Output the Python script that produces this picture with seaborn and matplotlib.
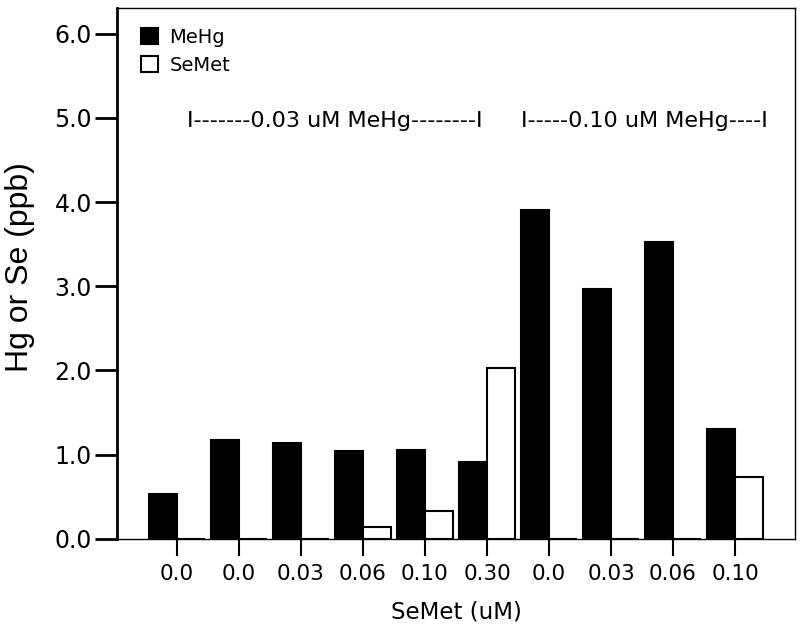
import pandas as pd
import seaborn as sns
import matplotlib.pyplot as plt

# Data
groups = ["g0", "g1", "g2", "g3", "g4", "g5", "g6", "g7", "g8", "g9"]
tick_labels = ["0.0", "0.0", "0.03", "0.06", "0.10", "0.30", "0.0", "0.03", "0.06", "0.10"]
mehg = [0.53, 1.18, 1.14, 1.04, 1.05, 0.91, 3.91, 2.97, 3.52, 1.31]
semet = [0.0, 0.0, 0.0, 0.14, 0.33, 2.03, 0.0, 0.0, 0.0, 0.74]
series = ["MeHg", "SeMet"]
annotations = ["I-------0.03 uM MeHg--------I", "I-----0.10 uM MeHg----I"]

df = pd.DataFrame({
    "group": groups * 2,
    "series": [series[0]] * len(groups) + [series[1]] * len(groups),
    "value": mehg + semet,
})

sns.set_style("white")
plt.rcParams["font.family"] = ["DejaVu Sans"]
plt.rcParams["text.color"] = "black"
plt.rcParams["axes.labelcolor"] = "black"
plt.rcParams["xtick.color"] = "black"
plt.rcParams["ytick.color"] = "black"

fig = plt.figure(figsize=(8, 6.31), dpi=100)
ax = fig.add_axes([0.146, 0.146, 0.848, 0.842])

sns.barplot(data=df, x="group", y="value", hue="series", order=groups,
            hue_order=series, palette={"MeHg": "black", "SeMet": "white"},
            edgecolor="black", linewidth=1.5, width=0.9, saturation=1,
            ax=ax)

ax.set_xlim(-0.97, 9.97)
ax.set_ylim(0, 6.31)
ax.set_yticks([0, 1, 2, 3, 4, 5, 6])
ax.set_yticklabels([f"{v:.1f}" for v in range(7)])
ax.set_xticks(range(len(groups)))
ax.set_xticklabels(tick_labels)

ax.tick_params(axis="y", direction="out", length=16, width=2, labelsize=17, pad=2,
               left=True, colors="black")
ax.tick_params(axis="x", direction="out", length=12, width=1.5, labelsize=15.5, pad=6,
               bottom=True, colors="black")

for side in ["top", "right", "bottom"]:
    ax.spines[side].set_linewidth(1.0)
    ax.spines[side].set_color("black")
ax.spines["left"].set_linewidth(2)
ax.spines["left"].set_color("black")

ax.set_xlabel("SeMet (uM)", fontsize=16.5, labelpad=12)
ax.set_ylabel("Hg or Se (ppb)", fontsize=23, family=["Liberation Sans", "DejaVu Sans"])
ax.yaxis.set_label_coords(-0.12, 0.511)

# group annotations above the bars
ax.text(2.55, 4.886, annotations[0], ha="center", va="baseline", fontsize=16)
ax.text(7.54, 4.886, annotations[1], ha="center", va="baseline", fontsize=16)

ax.legend(loc="upper left", bbox_to_anchor=(0.036, 0.962), frameon=False,
          fontsize=14, handlelength=0.85, handleheight=0.85, handletextpad=0.6,
          labelspacing=0.45, borderpad=0, borderaxespad=0)

fig.savefig("out.png", dpi=100)
